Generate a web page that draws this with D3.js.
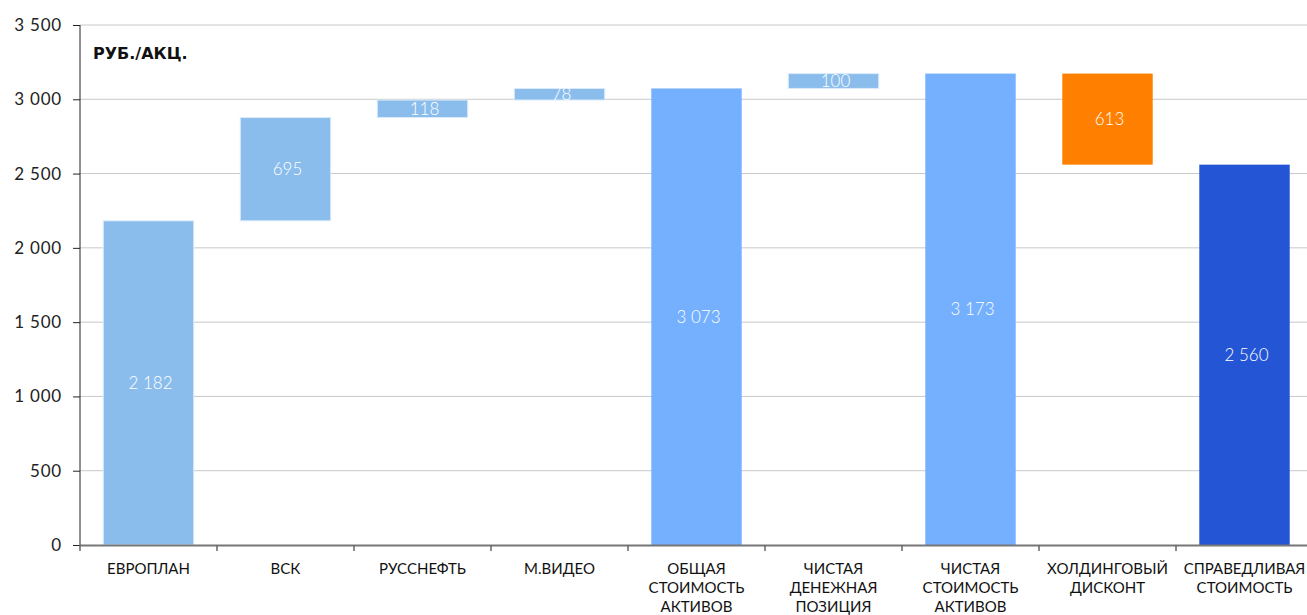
<!DOCTYPE html>
<html><head><meta charset="utf-8">
<script src="https://cdn.jsdelivr.net/npm/d3@7"></script>
<style>
html,body{margin:0;padding:0;background:#fff;}
svg{display:block;font-family:Lato,"Noto Sans",sans-serif;}
</style></head>
<body><svg id="c" width="1307" height="615"></svg>
<script>
const categories = [["ЕВРОПЛАН"],["ВСК"],["РУССНЕФТЬ"],["М.ВИДЕО"],["ОБЩАЯ","СТОИМОСТЬ","АКТИВОВ"],["ЧИСТАЯ","ДЕНЕЖНАЯ","ПОЗИЦИЯ"],["ЧИСТАЯ","СТОИМОСТЬ","АКТИВОВ"],["ХОЛДИНГОВЫЙ","ДИСКОНТ"],["СПРАВЕДЛИВАЯ","СТОИМОСТЬ"]];
const values = [2182, 695, 118, 78, 3073, 100, 3173, -613, 2560];
const kinds = ["step","step","step","step","total","step","total","discount","final"];
const yTicks = [0,500,1000,1500,2000,2500,3000,3500];
const unitLabel = "РУБ./АКЦ.";

const colors = {step:"#8BBDEC", total:"#74B0FE", discount:"#FF7F00", final:"#2355D5"};

const svg = d3.select("#c");
const x = d3.scaleBand().domain(d3.range(values.length)).range([80,1313]).paddingInner(0.34).paddingOuter(0.17);
const y = d3.scaleLinear().domain([0,3500]).range([545,25]);
const loc = d3.formatLocale({decimal:",", thousands:"\u00a0", grouping:[3], currency:["",""]});
const fmt = loc.format(",d");

// compute waterfall segments
let run = 0;
const segs = values.map((v,i)=>{
  let lo, hi;
  if (kinds[i]==="total" || kinds[i]==="final") { lo = 0; hi = v; run = v; }
  else { const s = run; run = run + v; lo = Math.min(s, run); hi = Math.max(s, run); }
  return {i, v, lo, hi, kind:kinds[i]};
});

// gridlines
svg.append("g").selectAll("line").data(yTicks.filter(d=>d>0)).join("line")
  .attr("x1",80).attr("x2",1307).attr("y1",d=>y(d)).attr("y2",d=>y(d))
  .attr("stroke","#c8c8c8").attr("stroke-width",1);

// bars
svg.append("g").selectAll("rect").data(segs).join("rect")
  .attr("x",d=>x(d.i)).attr("width",x.bandwidth())
  .attr("y",d=>y(d.hi)).attr("height",d=>y(d.lo)-y(d.hi))
  .attr("fill",d=>colors[d.kind])
  .attr("stroke",d=>d.kind==="step"?"#dcebfa":"none").attr("stroke-width",1);

// value labels
svg.append("g").selectAll("text").data(segs).join("text")
  .attr("x",d=>x(d.i)+x.bandwidth()/2+2)
  .attr("y",d=>(y(d.lo)+y(d.hi))/2)
  .attr("dy","0.36em").attr("text-anchor","middle")
  .attr("fill","#fff").attr("font-size",17).attr("font-weight",300)
  .text(d=>fmt(Math.abs(d.v)));

// y axis
const ya = svg.append("g").attr("transform","translate(80,0)")
  .call(d3.axisLeft(y).tickValues(yTicks).tickFormat(fmt).tickSize(7).tickPadding(11));
ya.select(".domain").attr("stroke","#222").attr("d","M0,25V545");
ya.selectAll(".tick line").attr("stroke","#222");
ya.selectAll("text").attr("font-size",17).attr("letter-spacing","0.8px").attr("fill","#222").attr("font-family","Lato,sans-serif");

// x axis line + ticks
const bounds = d3.range(values.length+1).map(i=>80+i*x.step());
svg.append("line").attr("x1",80).attr("x2",1307).attr("y1",545.5).attr("y2",545.5).attr("stroke","#777").attr("stroke-width",2);
svg.append("g").selectAll("line").data(bounds).join("line")
  .attr("x1",d=>d).attr("x2",d=>d).attr("y1",545).attr("y2",551).attr("stroke","#666").attr("stroke-width",1.5);

// x labels
const xl = svg.append("g").selectAll("text").data(categories).join("text")
  .attr("text-anchor","middle").attr("font-size",15).attr("fill","#111")
  .attr("transform",(d,i)=>`translate(${x(i)+x.bandwidth()/2},574)`);
xl.each(function(lines){
  d3.select(this).selectAll("tspan").data(lines).join("tspan")
    .attr("x",0).attr("y",(d,k)=>k*19).text(d=>d);
});

// unit label
svg.append("text").attr("x",93).attr("y",59).attr("font-size",16).attr("font-weight",700)
  .attr("font-family","'DejaVu Sans',sans-serif")
  .attr("fill","#111").text(unitLabel);
</script></body></html>
